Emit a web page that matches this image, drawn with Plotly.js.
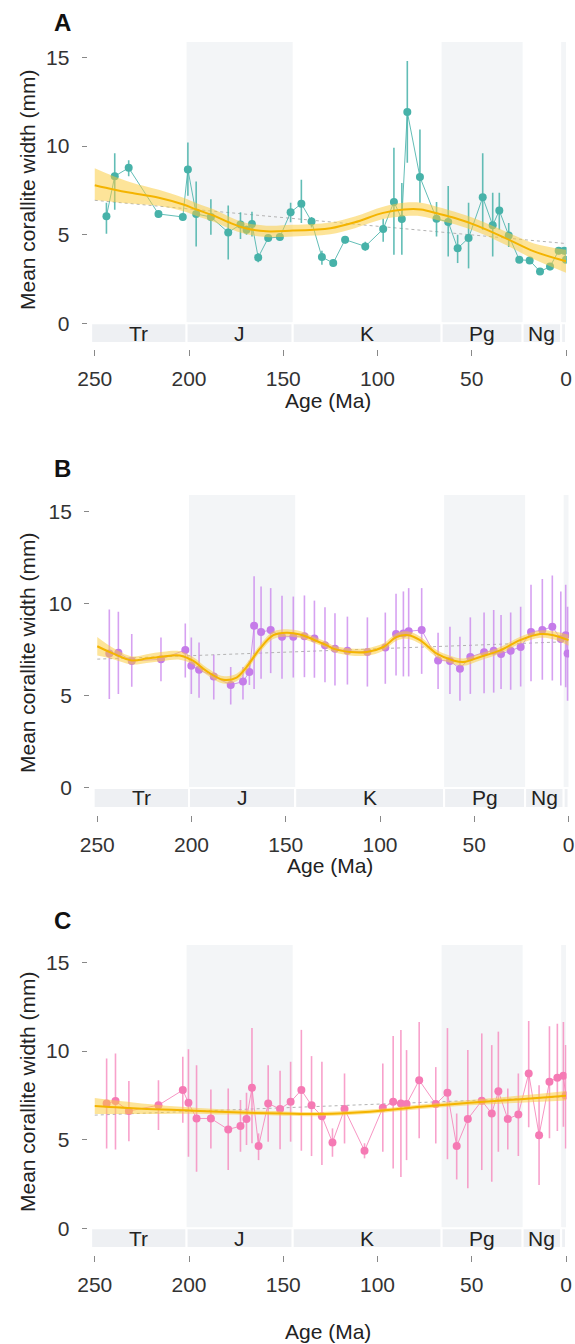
<!DOCTYPE html>
<html><head><meta charset="utf-8">
<script src="https://cdn.plot.ly/plotly-3.0.1.min.js"></script>
<style>html,body{margin:0;padding:0;background:#fff}#chart{width:575px;height:1344px}</style>
</head><body><div id="chart"></div>
<script>
// ---- geological periods ----
const periodNames  = ['Tr', 'J', 'K', 'Pg', 'Ng', ''];
const periodStart  = [251.9, 201.3, 145.0, 66.0, 23.03, 2.58];
const periodEnd    = [201.3, 145.0, 66.0, 23.03, 2.58, 0];
const periodShaded = [false, true, false, true, false, true];

const ageTicks   = [250, 200, 150, 100, 50, 0];
const widthTicks = [0, 5, 10, 15];

// ---- Panel A ----
const ageA   = [243.8,239.4,232,216.2,203.3,200.6,196.2,188.4,179.2,172.7,169.5,166.6,163.3,158,151.8,146.1,140.4,135,129.5,123.5,117.2,106.5,97,91.3,87.1,84.2,77.5,68.7,62.5,57.5,51.7,44.2,38.9,35.4,30.4,24.8,19.3,13.8,8.5,3.9,0.9,0];
const widthA = [6.04,8.3,8.77,6.17,6.0,8.68,6.17,6.0,5.13,5.57,5.28,5.6,3.72,4.81,4.87,6.26,6.75,5.75,3.74,3.40,4.72,4.34,5.32,6.85,5.89,11.92,8.25,5.9,5.72,4.23,4.81,7.11,5.53,6.36,4.96,3.58,3.55,2.92,3.2,4.09,4.09,3.58];
const lowA   = [5.06,6.4,8.3,5.95,5.8,7.2,4.34,5.0,3.6,4.75,5.0,4.9,3.45,4.7,4.75,5.7,5.66,5.4,3.3,3.2,4.5,4.1,4.6,3.87,3.87,9.06,6.8,4.9,3.77,3.4,3.1,5.28,3.77,5.28,4.3,3.4,3.4,2.75,3.0,3.9,3.9,3.4];
const highA  = [6.8,9.6,9.2,6.35,6.2,10.2,8.0,7.0,6.64,6.26,5.5,6.3,3.95,4.95,5.0,6.8,8.1,6.0,4.1,3.6,4.9,4.6,5.9,9.9,7.92,14.8,10.94,6.85,7.74,5.0,6.8,9.6,7.36,7.36,5.66,3.75,3.7,3.1,3.4,4.3,4.3,3.8];
const fitAgeA  = [250,240,231,216,203,196,187,179,170,159,145,134,125,112,97,86,77,68,59,47,31,17,0];
const fitA     = [7.79,7.55,7.36,7.08,6.7,6.42,6.08,5.7,5.36,5.19,5.23,5.28,5.36,5.7,6.23,6.42,6.42,6.19,5.94,5.5,4.75,4.06,3.5];
const fitLowA  = [6.95,6.85,6.76,6.63,6.32,6.06,5.73,5.37,5.04,4.87,4.9,4.95,5.03,5.37,5.88,6.04,6.04,5.82,5.59,5.15,4.37,3.61,2.85];
const fitHighA = [8.75,8.3,7.96,7.53,7.08,6.78,6.43,6.03,5.68,5.51,5.56,5.61,5.69,6.03,6.58,6.8,6.8,6.56,6.29,5.85,5.13,4.51,4.15];
const trendAgeA = [250, 0];
const trendA    = [6.94, 4.5];

// ---- Panel B ----
const ageB   = [243.6,238.8,231.7,216.2,203.3,200.1,196,188.2,179.2,172.7,169.3,166.8,163.1,158,152,146,140.1,134.8,129.2,123.9,117.3,106.7,97.2,91.5,87.6,84.8,77.9,69.2,62.9,57.6,52.1,44.8,39.7,35.8,30.7,25.4,19.9,13.9,8.6,4.1,1.5,0.5];
const widthB = [7.3,7.35,6.9,6.99,7.5,6.64,6.42,6.06,5.6,5.78,6.3,8.81,8.47,8.58,8.21,8.21,8.25,8.12,7.76,7.57,7.45,7.39,7.63,8.36,8.39,8.52,8.58,6.93,6.9,6.48,7.12,7.37,7.46,7.28,7.45,7.66,8.47,8.58,8.76,8.1,8.3,7.3];
const lowB   = [4.84,5.1,5.5,5.8,6.0,5.1,4.9,4.8,4.53,4.8,5.6,5.38,5.93,6.24,5.93,6.0,6.02,5.99,5.75,5.57,5.62,5.51,5.66,6.11,6.06,6.06,6.2,5.38,5.11,4.74,5.11,5.15,5.18,5.38,5.33,5.51,5.8,5.88,5.84,5.57,5.47,4.74];
const highB  = [9.7,9.58,8.36,8.18,8.94,8.18,7.9,7.24,6.57,6.57,6.93,11.5,10.95,10.86,10.44,10.4,10.46,10.18,9.82,9.49,9.31,9.27,9.53,10.55,10.68,10.86,10.86,8.43,8.76,8.21,9.27,9.53,9.67,9.4,9.54,9.85,11.04,11.35,11.55,10.68,11.04,9.85];
const fitAgeB  = [250,241.5,231.7,223.8,215,206.2,199,192,183.2,176.1,170.8,163.7,156.6,149.6,142.5,135.5,128.4,124.8,115.9,107,98.2,91.1,84.9,78.8,69.9,61.1,55.8,46.9,36.3,25.7,15.1,8,0];
const fitB     = [7.7,7.3,6.93,7.03,7.15,7.2,6.9,6.35,5.88,6.0,6.57,7.57,8.3,8.43,8.34,8.07,7.76,7.57,7.39,7.39,7.66,8.21,8.3,8.03,7.3,6.93,6.84,7.12,7.48,8.03,8.36,8.3,8.03];
const fitLowB  = [7.2,7.0,6.71,6.79,6.9,6.97,6.7,6.15,5.68,5.8,6.37,7.37,8.1,8.23,8.15,7.9,7.59,7.4,7.2,7.19,7.46,8.01,8.1,7.83,7.1,6.73,6.64,6.93,7.3,7.84,8.16,8.08,7.73];
const fitHighB = [8.2,7.6,7.15,7.27,7.4,7.43,7.1,6.55,6.08,6.2,6.77,7.77,8.5,8.63,8.53,8.24,7.93,7.74,7.58,7.59,7.86,8.41,8.5,8.23,7.5,7.13,7.04,7.31,7.66,8.22,8.56,8.52,8.33];
const trendAgeB = [250, 0];
const trendB    = [7.0, 7.95];

// ---- Panel C ----
const ageC   = [243.7,239,231.9,216.2,203.3,200.3,196,188.4,179.2,172.7,169.5,166.6,163.1,158,151.7,146.1,140.4,135,129.5,123.9,117.5,106.9,97.2,91.7,87.6,84.6,77.9,69.1,62.9,58,52.1,44.7,39.4,35.9,30.9,25.3,19.8,14.3,8.8,4.6,1.4,0.2];
const widthC = [7.05,7.18,6.62,6.95,7.8,7.09,6.2,6.2,5.58,5.77,6.17,7.93,4.64,7.05,6.73,7.14,7.8,6.94,6.33,4.85,6.73,4.38,6.8,7.14,7.05,7.01,8.36,7.01,7.65,4.64,6.17,7.2,6.48,7.74,6.17,6.43,8.74,5.26,8.27,8.5,8.61,7.5];
const lowC   = [4.51,4.45,4.92,5.55,5.96,4.04,3.2,4.51,3.29,4.32,4.7,4.8,3.85,4.89,4.47,4.89,4.38,4.08,3.57,4.04,4.79,3.95,4.32,3.38,2.9,3.85,5.08,4.79,3.9,2.76,2.26,3.29,2.63,4.32,4.45,4.08,5.7,2.44,5.08,5.5,5.73,4.5];
const highC  = [9.59,9.87,8.31,8.36,9.68,10.1,9.21,7.84,7.89,7.24,7.65,11.3,5.36,9.21,8.9,9.4,11.2,9.72,9.4,5.64,8.74,4.8,9.3,10.85,11.2,10.06,11.65,9.1,11.3,6.48,10.06,11.0,10.34,11.1,7.89,8.74,11.7,8.08,11.4,11.55,11.65,10.34];
const fitAgeC  = [250,225,200,180,150,130,104,77,51,24,0];
const fitC     = [6.9,6.75,6.65,6.56,6.48,6.45,6.58,6.86,7.09,7.29,7.48];
const fitLowC  = [6.45,6.45,6.47,6.42,6.36,6.33,6.46,6.73,6.94,7.09,7.21];
const fitHighC = [7.35,7.05,6.83,6.7,6.6,6.57,6.7,6.99,7.24,7.49,7.75];
const trendAgeC = [250, 0];
const trendC    = [6.39, 7.42];

// ---- layout helpers ----
const H = 1344, W = 575;
const FONT = 'Liberation Sans, Arial, Helvetica, sans-serif';
const panels = [
  {key:'A', ax:'', age:ageA, w:widthA, lo:lowA, hi:highA, fx:fitAgeA, f:fitA, fl:fitLowA, fh:fitHighA, tx:trendAgeA, t:trendA,
   col:'#47b2a9', ecol:'rgba(71,178,169,0.85)', lcol:'rgba(71,178,169,0.85)',
   xl:89.1, xr:566.6, top:42, bot:343, yr:[-1.11,15.87], tickY:349, letterY:22, titleY:190, xtitleY:400},
  {key:'B', ax:'2', age:ageB, w:widthB, lo:lowB, hi:highB, fx:fitAgeB, f:fitB, fl:fitLowB, fh:fitHighB, tx:trendAgeB, t:trendB,
   col:'#c57ce9', ecol:'rgba(200,130,236,0.75)', lcol:'rgba(197,124,233,0.8)',
   xl:91.6, xr:569.1, top:495, bot:808, yr:[-1.09,15.92], tickY:815, letterY:469, titleY:653, xtitleY:865},
  {key:'C', ax:'3', age:ageC, w:widthC, lo:lowC, hi:highC, fx:fitAgeC, f:fitC, fl:fitLowC, fh:fitHighC, tx:trendAgeC, t:trendC,
   col:'#f57ab4', ecol:'rgba(246,130,185,0.75)', lcol:'rgba(245,122,180,0.8)',
   xl:89.1, xr:566.6, top:945, bot:1248, yr:[-1.11,15.99], tickY:1255, letterY:921, titleY:1092, xtitleY:1331}
];

const traces = [];
const layout = {
  width: W, height: H, margin:{l:0,r:0,t:0,b:0},
  paper_bgcolor:'#fff', plot_bgcolor:'rgba(0,0,0,0)',
  showlegend:false, font:{family:FONT, size:21, color:'#333'},
  shapes:[], annotations:[]
};

panels.forEach(p => {
  const xa = 'x'+p.ax, ya = 'y'+p.ax;
  // trend (dashed)
  traces.push({x:p.tx, y:p.t, xaxis:xa, yaxis:ya, mode:'lines', hoverinfo:'skip',
    line:{color:'#b3b3b3', width:1, dash:'3px,3px'}});
  // data
  traces.push({x:p.age, y:p.w, xaxis:xa, yaxis:ya, mode:'lines+markers',
    line:{color:p.lcol, width:1},
    marker:{color:p.col, size:8},
    error_y:{type:'data', symmetric:false,
      array:p.hi.map((h,i)=>h-p.w[i]), arrayminus:p.lo.map((l,i)=>p.w[i]-l),
      color:p.ecol, thickness:1.6, width:0}});
  // band
  traces.push({x:p.fx, y:p.fh, xaxis:xa, yaxis:ya, mode:'lines', line:{width:0, shape:'spline'}, hoverinfo:'skip'});
  traces.push({x:p.fx, y:p.fl, xaxis:xa, yaxis:ya, mode:'lines', line:{width:0, shape:'spline'},
    fill:'tonexty', fillcolor:'rgba(252,204,60,0.52)', hoverinfo:'skip'});
  // fit line
  traces.push({x:p.fx, y:p.f, xaxis:xa, yaxis:ya, mode:'lines', line:{color:'#f4b400', width:2, shape:'spline'}, hoverinfo:'skip'});

  const xn = 'xaxis'+p.ax, yn = 'yaxis'+p.ax;
  layout[xn] = {domain:[p.xl/W, p.xr/W], range:[253,-0.3], anchor:'free', position:1-p.tickY/H,
    tickvals:ageTicks, ticktext:ageTicks.map(String), ticks:'outside', ticklen:6, tickwidth:1, tickcolor:'#888',
    showline:false, showgrid:false, zeroline:false, fixedrange:true,
    tickfont:{family:FONT, size:21, color:'#333'}, ticklabelstandoff:5};
  layout[yn] = {domain:[1-p.bot/H, 1-p.top/H], range:p.yr, anchor:'free', position:(p.xl-2.5)/W,
    tickvals:widthTicks, ticktext:widthTicks.map(String), ticks:'outside', ticklen:5, tickwidth:1, tickcolor:'#888',
    showline:false, showgrid:false, zeroline:false, fixedrange:true,
    tickfont:{family:FONT, size:21, color:'#333'}, ticklabelstandoff:8};

  // period shading + strip
  periodNames.forEach((nm,i) => {
    if (periodShaded[i]) {
      layout.shapes.push({type:'rect', xref:xa, yref:ya+' domain', x0:periodStart[i], x1:periodEnd[i], y0:0, y1:1,
        fillcolor:'#f3f5f7', line:{width:0}, layer:'below'});
    }
    layout.shapes.push({type:'rect', xref:xa, yref:ya, x0:periodStart[i], x1:periodEnd[i], y0:p.yr[0], y1:0,
      fillcolor:'#eef0f3', line:{color:'#ffffff', width:2}, layer:'below'});
    if (nm) layout.annotations.push({xref:xa, yref:ya, x:(periodStart[i]+periodEnd[i])/2, y:p.yr[0]/2,
      text:nm, showarrow:false, font:{family:FONT, size:21, color:'#222'}, xanchor:'center', yanchor:'middle'});
  });

  // panel letter
  layout.annotations.push({xref:'paper', yref:'paper', x:52/W, y:1-p.letterY/H, xanchor:'left', yanchor:'middle',
    text:'<b>'+p.key+'</b>', showarrow:false, font:{family:FONT, size:24, color:'#111'}});
  // y title
  layout.annotations.push({xref:'paper', yref:'paper', x:27/W, y:1-p.titleY/H, xanchor:'center', yanchor:'middle',
    text:'Mean corallite width (mm)', textangle:-90, showarrow:false, font:{family:FONT, size:21, color:'#222'}});
  // x title
  layout.annotations.push({xref:'paper', yref:'paper', x:((p.xl+p.xr)/2)/W, y:1-p.xtitleY/H, xanchor:'center', yanchor:'middle',
    text:'Age (Ma)', showarrow:false, font:{family:FONT, size:21, color:'#222'}});
});

Plotly.newPlot('chart', traces, layout, {staticPlot:true, displayModeBar:false});
</script>
</body></html>
